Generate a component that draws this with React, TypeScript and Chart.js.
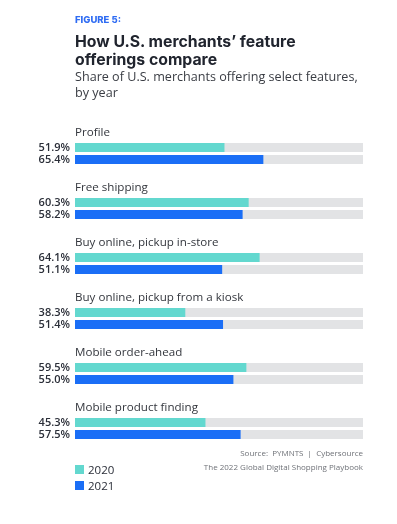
import React, { useEffect, useRef } from "react";
import { Chart, registerables } from "chart.js";

Chart.register(...registerables);

const categories = [
  "Profile",
  "Free shipping",
  "Buy online, pickup in-store",
  "Buy online, pickup from a kiosk",
  "Mobile order-ahead",
  "Mobile product finding",
];
const values2020 = [51.9, 60.3, 64.1, 38.3, 59.5, 45.3];
const values2021 = [65.4, 58.2, 51.1, 51.4, 55.0, 57.5];
const seriesNames = ["2020", "2021"];
const colors = ["#63d8cf", "#1a6ef6"];
const trackColor = "#e2e3e5";
const FONT = "'Open Sans', 'Noto Sans', sans-serif";

const overlayPlugin = {
  id: "overlay",
  beforeDatasetsDraw(chart: any) {
    const ctx = chart.ctx;
    const x = chart.scales.x;
    ctx.save();
    ctx.fillStyle = trackColor;
    chart.data.datasets.forEach((_: any, di: number) => {
      const meta = chart.getDatasetMeta(di);
      meta.data.forEach((el: any) => {
        const h = el.height;
        ctx.fillRect(x.getPixelForValue(0), el.y - h / 2, x.getPixelForValue(100) - x.getPixelForValue(0), h);
      });
    });
    ctx.restore();
  },
  afterDatasetsDraw(chart: any) {
    const ctx = chart.ctx;
    const x = chart.scales.x;
    ctx.save();
    ctx.font = `600 11px ${FONT}`;
    ctx.fillStyle = "#2a2e38";
    ctx.textAlign = "right";
    ctx.textBaseline = "middle";
    chart.data.datasets.forEach((ds: any, di: number) => {
      const meta = chart.getDatasetMeta(di);
      meta.data.forEach((el: any, i: number) => {
        ctx.fillText(ds.data[i].toFixed(1) + "%", x.left - 5, el.y + 0.5);
      });
    });
    ctx.font = `400 11.6px ${FONT}`;
    ctx.fillStyle = "#33363d";
    ctx.textAlign = "left";
    ctx.textBaseline = "middle";
    const meta0 = chart.getDatasetMeta(0);
    meta0.data.forEach((el: any, i: number) => {
      ctx.fillText(categories[i], x.left, el.y - 14.5);
    });
    ctx.restore();
  },
};

export default function App() {
  const ref = useRef<HTMLCanvasElement>(null);
  useEffect(() => {
    if (!ref.current) return;
    const chart = new Chart(ref.current, {
      type: "bar",
      data: {
        labels: categories,
        datasets: [
          { label: seriesNames[0], data: values2020, backgroundColor: colors[0] },
          { label: seriesNames[1], data: values2021, backgroundColor: colors[1] },
        ],
      },
      options: {
        indexAxis: "y",
        responsive: false,
        animation: false,
        events: [],
        layout: { padding: { left: 75, right: 34, top: 126, bottom: 68 } },
        categoryPercentage: 24 / 55,
        barPercentage: 0.75,
        scales: {
          x: { display: false, min: 0, max: 100 },
          y: { display: false, offset: true },
        },
        plugins: { legend: { display: false }, tooltip: { enabled: false } },
      } as any,
      plugins: [overlayPlugin],
    });
    return () => chart.destroy();
  }, []);

  return (
    <div style={{ position: "absolute", left: 0, top: 0, width: 397, height: 524, background: "#fff", fontFamily: FONT }}>
      <canvas ref={ref} width={397} height={524} style={{ position: "absolute", left: 0, top: 0 }} />
      <div style={{ position: "absolute", left: 75, top: 14, fontSize: 9.5, fontWeight: 800, color: "#2f6cf3", fontFamily: "Inter, sans-serif" }}>FIGURE 5:</div>
      <div style={{ position: "absolute", left: 75, top: 33, fontSize: 15.8, fontWeight: 700, color: "#20242e", lineHeight: "17.5px", fontFamily: "Inter, sans-serif", letterSpacing: 0 }}>
        How U.S. merchants’ feature<br />offerings compare
      </div>
      <div style={{ position: "absolute", left: 75, top: 69, fontSize: 12.6, color: "#3a3d44", lineHeight: "16px" }}>
        Share of U.S. merchants offering select features,<br />by year
      </div>
      <div style={{ position: "absolute", right: 34, top: 446, fontSize: 8, color: "#6f7278", textAlign: "right", lineHeight: "14px" }}>
        Source:&nbsp; PYMNTS&nbsp; |&nbsp; Cybersource<br />The 2022 Global Digital Shopping Playbook
      </div>
      {seriesNames.map((n, i) => (
        <div key={n} style={{ position: "absolute", left: 75, top: 462 + i * 16, display: "flex", alignItems: "center", fontSize: 11.5, color: "#2a2e38" }}>
          <span style={{ display: "inline-block", width: 9, height: 9, background: colors[i], marginRight: 4 }} />
          {n}
        </div>
      ))}
    </div>
  );
}
